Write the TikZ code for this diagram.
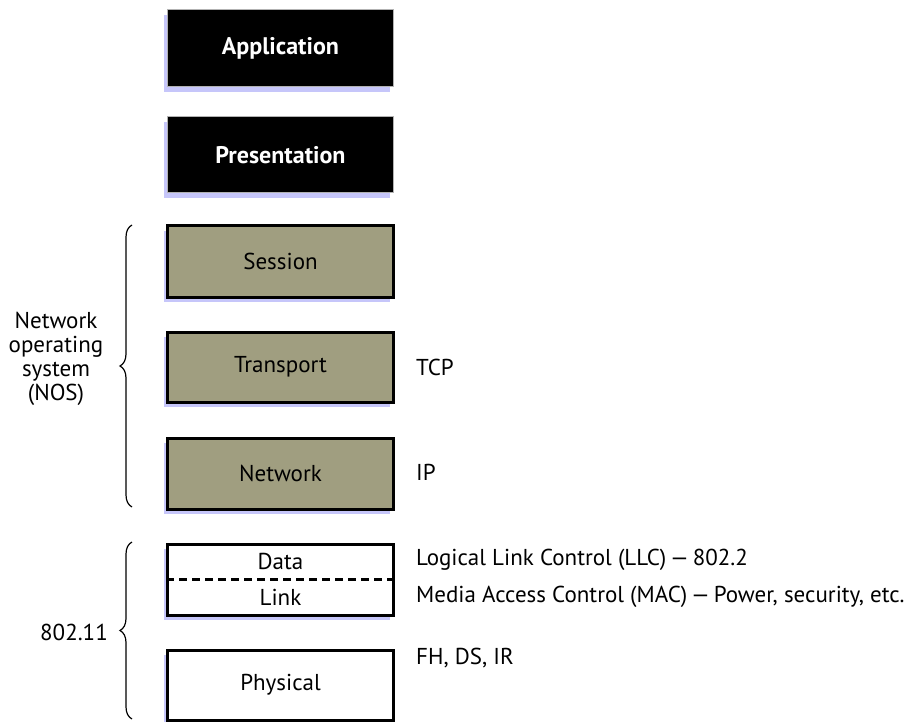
\documentclass[tikz,border=0pt]{standalone}
\usepackage{fontspec}
\setmainfont{PT Sans}
\usetikzlibrary{shadows,decorations.pathreplacing}

\definecolor{layergrey}{RGB}{160,158,128}
\definecolor{shadowblue}{RGB}{198,198,250}

\begin{document}
\begin{tikzpicture}[x=1pt,y=-1pt]
    \tikzstyle{layer}=[draw, rectangle, line width=3pt, minimum width=226pt, inner sep=0,
        font=\fontsize{23}{24}\selectfont, text centered,
        drop shadow={shadow xshift=-4pt, shadow yshift=-5pt, fill=shadowblue, opacity=1}];
    \tikzstyle{toplayer}=[layer, fill=black, draw=gray!60, line width=1pt, text=white,
        font=\fontsize{24}{24}\selectfont\bfseries];
    \tikzstyle{note}=[anchor=west, inner sep=0, font=\fontsize{23}{24}\selectfont];
    \tikzstyle{bracelabel}=[inner sep=0, font=\fontsize{23}{24}\selectfont, align=center];
    \tikzstyle{brace}=[decorate, decoration={brace, amplitude=12pt}, line width=1.2pt];

    \useasboundingbox (0,0) rectangle (924,722);

    \node[toplayer, minimum height=77pt] at (280.5,48.5) (app)  {Application};
    \node[toplayer, minimum height=76pt] at (280.5,155) (pres) {Presentation};
    \node[layer, fill=layergrey, minimum height=71pt] at (280.5,261.5) (sess)  {Session};
    \node[layer, fill=layergrey, minimum height=70pt] at (280.5,367) (trans) {Transport};
    \node[layer, fill=layergrey, minimum height=71pt] at (280.5,473.5) (netw) {Network};
    \node[layer, fill=white, minimum height=71pt] at (280.5,579.5) (dlink) {};
    \node[layer, fill=white, minimum height=70pt] at (280.5,685) (phys) {Physical};

    \node[inner sep=0, font=\fontsize{23}{24}\selectfont] at (280.5,561) (data) {Data};
    \node[inner sep=0, font=\fontsize{23}{24}\selectfont] at (280.5,597) (link) {Link};
    \draw[line width=3pt, dash pattern=on 8pt off 5pt] (dlink.west) -- (dlink.east);

    \node[note] at (416,367) (tcp) {TCP};
    \node[note] at (416,472) (ip)  {IP};
    \node[note] at (416,560) (llc) {Logical Link Control (LLC)\,—\,802.2};
    \node[note] at (416,597) (mac) {Media Access Control (MAC)\,—\,Power, security, etc.};
    \node[note] at (416,658) (fh)  {FH, DS, IR};

    \coordinate (nostop) at (132,225);
    \coordinate (nosbot) at (132,507);
    \coordinate (wltop) at (132,542);
    \coordinate (wlbot) at (132,719);
    \draw[brace] (nosbot) -- (nostop);
    \draw[brace] (wlbot) -- (wltop);

    \node[bracelabel] at (56,359) (nos) {Network\\operating\\system\\(NOS)};
    \node[bracelabel, anchor=east] at (108,632) (wlan) {802.11};
\end{tikzpicture}
\end{document}
